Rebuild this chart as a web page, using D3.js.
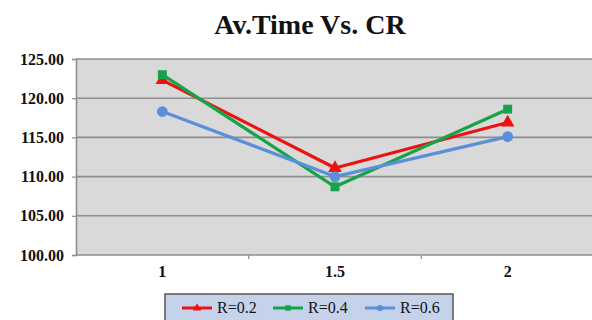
<!DOCTYPE html>
<html>
<head>
<meta charset="utf-8">
<script src="https://cdn.jsdelivr.net/npm/d3@7/dist/d3.min.js"></script>
<style>
  html, body { margin: 0; padding: 0; background: #fff; }
  svg { display: block; }
  text { font-family: "Liberation Serif", "Times New Roman", serif; }
</style>
</head>
<body>
<script>
// Categories (CR) and average time per R setting
const categories = ["1", "1.5", "2"];
const seriesNames = ["R=0.2", "R=0.4", "R=0.6"];
const r02 = [122.3, 111.1, 116.9];
const r04 = [123.0, 108.7, 118.6];
const r06 = [118.3, 110.0, 115.1];
const yTicks = [100, 105, 110, 115, 120, 125];

const W = 592, H = 320;
const margin = { left: 76, right: -2, top: 59, bottom: 65 };
const colors = ["#EE1111", "#17A34A", "#5B8FD8"];
const shapes = [d3.symbolTriangle, d3.symbolSquare, d3.symbolCircle];
const series = [r02, r04, r06];
const serif = '"Liberation Serif", "Times New Roman", serif';

const svg = d3.select("body").append("svg").attr("width", W).attr("height", H);

const x = d3.scaleBand().domain(categories)
  .range([margin.left, W - margin.right]).paddingInner(0).paddingOuter(0);
const y = d3.scaleLinear().domain([100, 125])
  .range([H - margin.bottom, margin.top]);

// Title
svg.append("text")
  .attr("x", 310).attr("y", 34)
  .attr("text-anchor", "middle")
  .style("font-family", serif)
  .style("font-weight", "bold").style("font-size", "28px")
  .attr("fill", "#111")
  .text("Av.Time Vs. CR");

// Plot background
svg.append("rect")
  .attr("x", margin.left).attr("y", y(125))
  .attr("width", W - margin.right - margin.left)
  .attr("height", y(100) - y(125))
  .attr("fill", "#D9D9D9");

// Horizontal gridlines
svg.append("g").selectAll("line").data(yTicks).join("line")
  .attr("x1", margin.left).attr("x2", W - margin.right)
  .attr("y1", d => y(d)).attr("y2", d => y(d))
  .attr("stroke", "#8E8E8E").attr("stroke-width", 1.6);

// Y axis
const yAxis = svg.append("g")
  .attr("transform", `translate(${margin.left},0)`)
  .call(d3.axisLeft(y).tickValues(yTicks).tickFormat(d3.format(".2f")).tickSize(4).tickPadding(8));
yAxis.attr("font-family", null);
yAxis.select(".domain").attr("stroke", "#8E8E8E").attr("stroke-width", 1.6);
yAxis.selectAll(".tick line").attr("stroke", "#8E8E8E").attr("stroke-width", 1.2);
yAxis.selectAll("text")
  .style("font-family", serif)
  .style("font-weight", "bold").style("font-size", "16px").attr("fill", "#111");

// X axis
const xAxis = svg.append("g")
  .attr("transform", `translate(0,${y(100)})`)
  .call(d3.axisBottom(x).tickSize(0).tickPadding(11));
xAxis.attr("font-family", null);
xAxis.select(".domain").remove();
xAxis.selectAll("text")
  .style("font-family", serif)
  .style("font-weight", "bold").style("font-size", "16px").attr("fill", "#111");
// category boundary ticks
svg.append("g").selectAll("line").data(categories.slice(1)).join("line")
  .attr("x1", d => x(d)).attr("x2", d => x(d))
  .attr("y1", y(100)).attr("y2", y(100) + 4)
  .attr("stroke", "#8E8E8E").attr("stroke-width", 1.2);

// Lines and markers
const line = d3.line()
  .x((d, i) => x(categories[i]) + x.bandwidth() / 2)
  .y(d => y(d));

series.forEach((vals, si) => {
  const g = svg.append("g");
  g.append("path").datum(vals)
    .attr("d", line).attr("fill", "none")
    .attr("stroke", colors[si]).attr("stroke-width", 3.2)
    .attr("stroke-linejoin", "round");
  g.selectAll("path.m").data(vals).join("path")
    .attr("class", "m")
    .attr("transform", (d, i) => `translate(${x(categories[i]) + x.bandwidth() / 2},${y(d)})`)
    .attr("d", d3.symbol().type(shapes[si]).size(si === 2 ? 90 : 80))
    .attr("fill", colors[si]);
});

// Legend
const lg = svg.append("g");
lg.append("rect")
  .attr("x", 165).attr("y", 294).attr("width", 288).attr("height", 34)
  .attr("fill", "#C5D3EA").attr("stroke", "#555").attr("stroke-width", 1.5);
const lx = [182, 273, 365];
seriesNames.forEach((name, si) => {
  const cy = 308;
  lg.append("line")
    .attr("x1", lx[si]).attr("x2", lx[si] + 30)
    .attr("y1", cy).attr("y2", cy)
    .attr("stroke", colors[si]).attr("stroke-width", 3);
  lg.append("path")
    .attr("transform", `translate(${lx[si] + 15},${cy})`)
    .attr("d", d3.symbol().type(shapes[si]).size(30))
    .attr("fill", colors[si]);
  lg.append("text")
    .attr("x", lx[si] + 35).attr("y", cy + 5)
    .style("font-family", serif)
    .style("font-size", "16px").attr("fill", "#111")
    .text(name);
});
</script>
</body>
</html>
